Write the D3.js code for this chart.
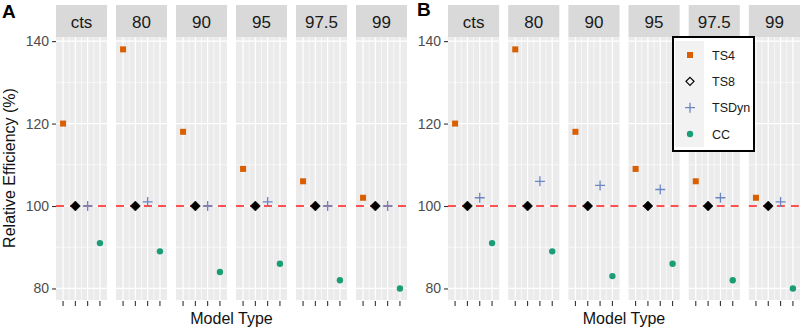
<!DOCTYPE html>
<html>
<head>
<meta charset="utf-8">
<script src="https://cdn.jsdelivr.net/npm/d3@7"></script>
<style>
  body { margin: 0; background: #fff; }
  svg { font-family: "Liberation Sans", Arial, sans-serif; }
</style>
</head>
<body>
<div id="chart"></div>
<script>
// Facets, model types and values
const facets = ["cts", "80", "90", "95", "97.5", "99"];
const models = ["TS4", "TS8", "TSDyn", "CC"];
const yTicks = [80, 100, 120, 140];

const ts4A = [120, 138, 118, 109, 106, 102];
const ts8A = [100, 100, 100, 100, 100, 100];
const tsdynA = [100, 101, 100, 101, 100, 100];
const ccA = [91, 89, 84, 86, 82, 80];

const ts4B = [120, 138, 118, 109, 106, 102];
const ts8B = [100, 100, 100, 100, 100, 100];
const tsdynB = [102, 106, 105, 104, 102, 101];
const ccB = [91, 89, 83, 86, 82, 80];

const refLine = 100;

const width = 800;
const height = 330;

const colors = { TS4: "#d95f02", TS8: "#000000", TSDyn: "#6b86c4", CC: "#1b9e77" };

const svg = d3.select("#chart")
    .append("svg")
    .attr("width", width)
    .attr("height", height);

// Build long table for a panel
function buildRows(series) {
    const rows = [];
    facets.forEach((f, i) => {
        models.forEach((m, j) => {
            rows.push({ facet: f, model: m, value: series[j][i] });
        });
    });
    return rows;
}

// Symbol drawing
function drawSymbol(g, model, x, y, legend) {
    if (model === "TS4") {
        g.append("rect")
            .attr("x", x - 3).attr("y", y - 3)
            .attr("width", 6).attr("height", 6)
            .attr("fill", colors.TS4);
    } else if (model === "TS8") {
        const r = legend ? 4 : 5;
        g.append("path")
            .attr("d", `M${x},${y - r}L${x + r},${y}L${x},${y + r}L${x - r},${y}Z`)
            .attr("fill", legend ? "none" : colors.TS8)
            .attr("stroke", colors.TS8)
            .attr("stroke-width", legend ? 1.2 : 0.5);
    } else if (model === "TSDyn") {
        const r = 5;
        g.append("path")
            .attr("d", `M${x - r},${y}H${x + r}M${x},${y - r}V${y + r}`)
            .attr("stroke", colors.TSDyn)
            .attr("stroke-width", 1.3)
            .attr("fill", "none");
    } else {
        g.append("circle")
            .attr("cx", x).attr("cy", y).attr("r", 3.2)
            .attr("fill", colors.CC);
    }
}

function drawPanel(opts) {
    const rows = buildRows(opts.series);

    const fx = d3.scaleBand()
        .domain(facets)
        .range([opts.left, opts.right])
        .paddingInner(0.15)
        .paddingOuter(0);

    const y = d3.scaleLinear()
        .domain([77.2, 141])
        .range([300, 37]);

    const g = svg.append("g");

    // Y axis
    const yAxis = d3.axisLeft(y).tickValues(yTicks).tickSize(4).tickPadding(3);
    const ya = g.append("g")
        .attr("transform", `translate(${opts.left}, 0)`)
        .call(yAxis);
    ya.select(".domain").remove();
    ya.selectAll(".tick line").attr("stroke", "#333").attr("stroke-width", 1.1);
    ya.selectAll(".tick text").attr("fill", "#4d4d4d").style("font-size", "14px");

    facets.forEach(f => {
        const x0 = fx(f);
        const bw = fx.bandwidth();
        const x = d3.scaleLinear()
            .domain([0.425, 4.575])
            .range([x0, x0 + bw]);

        // Strip
        g.append("rect")
            .attr("x", x0).attr("y", 5)
            .attr("width", bw).attr("height", 32)
            .attr("fill", "#d9d9d9");
        g.append("text")
            .attr("x", x0 + bw / 2).attr("y", 28)
            .attr("text-anchor", "middle")
            .attr("fill", "#1a1a1a")
            .style("font-size", "17px")
            .text(f);

        // Panel background
        g.append("rect")
            .attr("x", x0).attr("y", 37)
            .attr("width", bw).attr("height", 263)
            .attr("fill", "#ebebeb");

        // Minor grid
        [90, 110, 130].forEach(v => {
            g.append("line")
                .attr("x1", x0).attr("x2", x0 + bw)
                .attr("y1", y(v)).attr("y2", y(v))
                .attr("stroke", "#fff").attr("stroke-width", 0.6);
        });
        [1.5, 2.5, 3.5].forEach(v => {
            g.append("line")
                .attr("x1", x(v)).attr("x2", x(v))
                .attr("y1", 37).attr("y2", 300)
                .attr("stroke", "#fff").attr("stroke-width", 0.6);
        });
        // Major grid
        yTicks.forEach(v => {
            g.append("line")
                .attr("x1", x0).attr("x2", x0 + bw)
                .attr("y1", y(v)).attr("y2", y(v))
                .attr("stroke", "#fff").attr("stroke-width", 1.2);
        });
        models.forEach((m, j) => {
            g.append("line")
                .attr("x1", x(j + 1)).attr("x2", x(j + 1))
                .attr("y1", 37).attr("y2", 300)
                .attr("stroke", "#fff").attr("stroke-width", 1.2);
            // x tick marks (labels blank)
            g.append("line")
                .attr("x1", x(j + 1)).attr("x2", x(j + 1))
                .attr("y1", 301).attr("y2", 306)
                .attr("stroke", "#333").attr("stroke-width", 1.1);
        });

        // Reference line
        g.append("line")
            .attr("x1", x0).attr("x2", x0 + bw)
            .attr("y1", y(refLine)).attr("y2", y(refLine))
            .attr("stroke", "#ff1a1a")
            .attr("stroke-width", 1.5)
            .attr("stroke-dasharray", "8,6");

        // Points
        rows.filter(d => d.facet === f).forEach(d => {
            drawSymbol(g, d.model, x(models.indexOf(d.model) + 1), y(d.value), false);
        });
    });

    // X axis title
    g.append("text")
        .attr("x", (opts.left + opts.right) / 2)
        .attr("y", 324)
        .attr("text-anchor", "middle")
        .attr("fill", "#111")
        .style("font-size", "16px")
        .text("Model Type");

    // Panel tag
    g.append("text")
        .attr("x", opts.tagX)
        .attr("y", opts.tagY)
        .style("font-size", "19px")
        .style("font-weight", "bold")
        .text(opts.tag);

    return { fx, y };
}

drawPanel({ series: [ts4A, ts8A, tsdynA, ccA], left: 56, right: 407, tag: "A", tagX: 2, tagY: 18 });
drawPanel({ series: [ts4B, ts8B, tsdynB, ccB], left: 448, right: 800, tag: "B", tagX: 417, tagY: 16 });

// Y axis title (panel A only)
svg.append("text")
    .attr("transform", "rotate(-90)")
    .attr("x", -168)
    .attr("y", 15)
    .attr("text-anchor", "middle")
    .attr("fill", "#111")
    .style("font-size", "16px")
    .text("Relative Efficiency (%)");

// Legend inside panel B
const legend = svg.append("g");
legend.append("rect")
    .attr("x", 673).attr("y", 37)
    .attr("width", 81).attr("height", 114)
    .attr("fill", "#fff")
    .attr("stroke", "#000")
    .attr("stroke-width", 2);
legend.append("rect")
    .attr("x", 675).attr("y", 41)
    .attr("width", 29).attr("height", 106)
    .attr("fill", "#f2f2f2");

const legendY = d3.scalePoint()
    .domain(models)
    .range([55, 134]);

models.forEach(m => {
    drawSymbol(legend, m, 690, legendY(m), true);
    legend.append("text")
        .attr("x", 712)
        .attr("y", legendY(m) + 4.5)
        .attr("fill", "#1a1a1a")
        .style("font-size", "12.5px")
        .text(m);
});
</script>
</body>
</html>
